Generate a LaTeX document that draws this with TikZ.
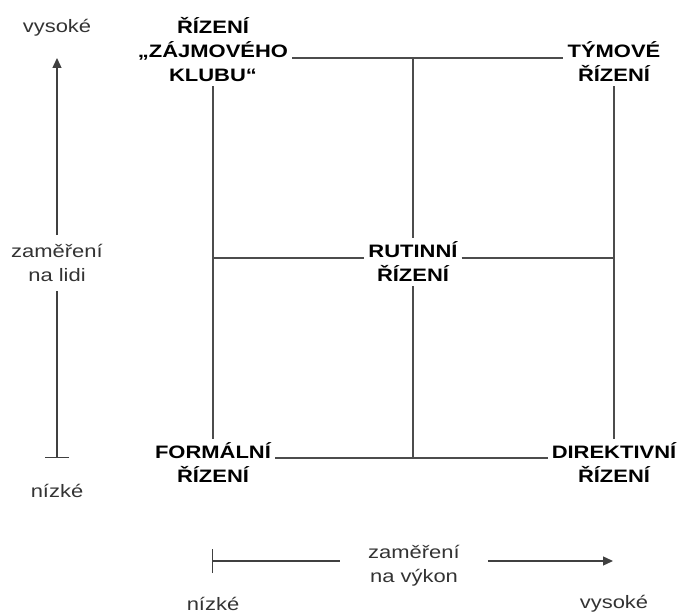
\documentclass[tikz,border=0pt]{standalone}
\usepackage{fontspec}
\setmainfont{Liberation Sans}[FakeStretch=1.22]
\usetikzlibrary{arrows.meta,positioning}

\begin{document}
\begin{tikzpicture}[
    x=1pt, y=-1pt,
    font=\fontsize{18}{24}\selectfont,
    styl/.style={font=\fontsize{18}{24}\selectfont\bfseries, align=center, inner sep=4pt},
    osa/.style={text=black!80, align=center, inner sep=5pt},
    mriz/.style={draw=black!70, line width=1.3pt},
    sipka/.style={draw=black!75, line width=1.3pt, -{Triangle[length=10pt,width=9pt]}},
    zarazka/.style={draw=black!75, line width=1.3pt, {Bar[width=24pt]}-}
]
\useasboundingbox (0,0) rectangle (680,615);

% ====================
%    Styly rizeni
% ====================

% Nodes
\node[styl] (zajmove) at (213,50) {ŘÍZENÍ\\„ZÁJMOVÉHO\\KLUBU“};
\node[styl] (tymove) at (614,62) {TÝMOVÉ\\ŘÍZENÍ};
\node[styl] (rutinni) at (413,262) {RUTINNÍ\\ŘÍZENÍ};
\node[styl] (formalni) at (213,463) {FORMÁLNÍ\\ŘÍZENÍ};
\node[styl] (direktivni) at (614,463) {DIREKTIVNÍ\\ŘÍZENÍ};

% Grid points
\coordinate (hore) at (413,58);
\coordinate (vlevo) at (213,258);
\coordinate (vpravo) at (614,258);
\coordinate (dole) at (413,458);

% Connections
\draw[mriz] (zajmove.east |- hore) -- (tymove.west |- hore);
\draw[mriz] (hore) -- (rutinni.north);
\draw[mriz] (rutinni.south) -- (dole);
\draw[mriz] (vlevo) -- (rutinni.west |- vlevo);
\draw[mriz] (rutinni.east |- vpravo) -- (vpravo);
\draw[mriz] (zajmove.south) -- (formalni.north);
\draw[mriz] (tymove.south) -- (direktivni.north);
\draw[mriz] (formalni.east |- dole) -- (direktivni.west |- dole);

% ====================
%    Osa y: lide
% ====================
\node[osa] (lide_hi) at (57,28) {vysoké};
\node[osa, inner ysep=9pt] (lide) at (57,263) {zaměření\\na lidi};
\node[osa] (lide_lo) at (57,491) {nízké};
\coordinate (lide_top) at (57,58);
\coordinate (lide_bot) at (57,458);
\draw[sipka] (lide.north) -- (lide_top);
\draw[zarazka] (lide_bot) -- (lide.south);

% ====================
%    Osa x: vykon
% ====================
\node[osa, inner xsep=28pt] (vykon) at (414,566) {zaměření\\na výkon};
\node[osa] (vykon_lo) at (213,604) {nízké};
\node[osa] (vykon_hi) at (614,604) {vysoké};
\coordinate (vykon_l) at (212,561);
\coordinate (vykon_r) at (613,561);
\draw[zarazka] (vykon_l) -- (vykon.west |- vykon_l);
\draw[sipka] (vykon.east |- vykon_r) -- (vykon_r);

\end{tikzpicture}
\end{document}
